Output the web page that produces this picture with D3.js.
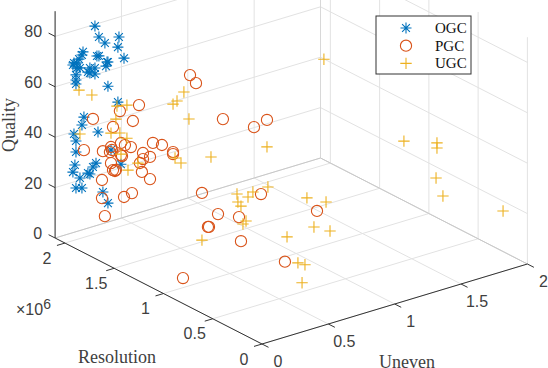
<!DOCTYPE html>
<html>
<head>
<meta charset="utf-8">
<script src="https://d3js.org/d3.v7.min.js"></script>
<style>
  html, body { margin: 0; padding: 0; background: #fff; }
  svg { display: block; }
</style>
</head>
<body>
<svg id="chart" width="548" height="368"></svg>
<script>
// values
const ogcUneven = [.226,.256,.407,.301,.399,.445,.136,.128,.106,.068,.09,.06,.09,.113,.241,.256,.317,.309,.324,.188,.226,.188,.226,.173,.083,.083,.083,.324,.399,.143,.128,.249,.068,.083,.083,.347,.075,.06,.234,.211,.173,.188,.113,.083,.128,.286,.324,.422];
const ogcResolution = ogcUneven.map(() => 2e6);
const ogcQuality = [82.5,77.7,75.3,74.6,71.4,66.3,73.7,72.6,71.3,70.4,70,69.7,68,67.7,70.4,70.2,66.8,65.3,66.7,66.5,65.9,64.5,63.5,65.1,65.4,63.4,61.8,57.1,49.6,47.7,44.8,40.1,42.2,39.2,34.8,31.4,29.8,27.2,28,26.8,25,24.4,24,20.5,19.8,15.7,10.7,24.6];

const pgcUneven = [.211,.414,.558,.512,.362,.143,.286,.347,.339,.354,.422,.452,.497,.43,.422,.588,.588,.565,.641,.663,.731,.347,.58,.362,.384,.377,.641,.279,.505,.445,.279,.301,.2,.245,.072,.072,.448,.682,.78,.29,.411,.569,.343,.335,.584,.147,.544,.735,1.157];
const pgcResolution = [2e6,2e6,2e6,2e6,2e6,2e6,2e6,2e6,2e6,2e6,2e6,2e6,2e6,2e6,2e6,2e6,2e6,2e6,2e6,2e6,2e6,2e6,2e6,2e6,2e6,2e6,2e6,2e6,2e6,2e6,2e6,2e6,1e6,1e6,1e6,1e6,1e6,1e6,1e6,1e6,1e6,1e6,1e6,1e6,1e6,1e6,5e5,1e6,1e6];
const pgcQuality = [45.9,45.8,45.9,40.3,40.3,34.6,31.9,32.6,30.7,31.3,33,31.7,30.2,27.7,28.2,26.4,24,22.8,24,29.2,27.3,26.2,19,23.2,22.9,22.6,15.2,20.6,11.8,11.2,13.4,5.9,83.5,79.6,55,54.2,62.1,55.2,56.5,35.3,25,21.3,21,21.1,11.5,3.8,14,27.8,14.4];

const ugcUneven = [.106,.203,.392,.467,.384,.347,.414,.467,.113,.422,.55,.475,.154,.102,.072,.192,.087,.132,.358,.554,.637,.674,.787,.561,.584,.622,.599,.29,1.081,1.225,1.134,1.255,.931,.642,.695,.673,1.209,.78,1.812,1.467,1.467,1.46,1.512,1.965];
const ugcResolution = [2e6,2e6,2e6,2e6,2e6,2e6,2e6,2e6,2e6,2e6,2e6,2e6,1e6,1e6,1e6,1e6,1e6,1e6,1e6,1e6,1e6,1e6,1e6,1e6,1e6,1e6,1e6,1e6,1e6,1e6,1e6,1e6,1e6,5e5,5e5,5e5,1e6,1e6,1e6,2e5,2e5,2e5,2e5,2e5];
const ugcQuality = [59,55.5,48.1,47.3,43.1,38.1,37.1,34.2,41.5,28.6,23,21.4,77.5,74.8,74,66.2,52.4,49.7,48.5,30.7,28.2,29.6,29.8,27.4,25.4,18.9,18.1,16.6,20.8,16.9,8.4,4.9,7.7,12,10.4,3.6,73.8,45.8,31.7,52.5,50.5,38.7,30.7,17.6];

const unevenTicks = [0, 0.5, 1, 1.5, 2];
const resolutionTicks = [0, 5e5, 1e6, 1.5e6, 2e6];
const qualityTicks = [0, 20, 40, 60, 80];
const legendNames = ['OGC', 'PGC', 'UGC'];

const colors = {OGC: '#0072BD', PGC: '#D95319', UGC: '#EDB120'};
const axisColor = '#333';
const gridColor = '#e2e2e2';
const uMax = 2, rMax = 2.1e6, zMax = 90;

const svg = d3.select('#chart');

// orthographic view, each data axis adds a fixed screen vector
const origin = [262, 344];
const uToX = d3.scaleLinear().domain([0, uMax]).range([0, 265.4]);
const uToY = d3.scaleLinear().domain([0, uMax]).range([0, -80]);
const rToX = d3.scaleLinear().domain([0, rMax]).range([0, -206.9]);
const rToY = d3.scaleLinear().domain([0, rMax]).range([0, -106]);
const zToY = d3.scaleLinear().domain([0, zMax]).range([0, -226.8]);

function project(u, r, z) {
  return [origin[0] + uToX(u) + rToX(r), origin[1] + uToY(u) + rToY(r) + zToY(z)];
}

function segment(g, a, b, color, width) {
  g.append('line')
      .attr('x1', a[0]).attr('y1', a[1])
      .attr('x2', b[0]).attr('y2', b[1])
      .attr('stroke', color)
      .attr('stroke-width', width);
}

// Walls and floor grid
const grid = svg.append('g');
unevenTicks.forEach((u) => {
  segment(grid, project(u, 0, 0), project(u, rMax, 0), gridColor, 1);
  segment(grid, project(u, rMax, 0), project(u, rMax, zMax), gridColor, 1);
});
resolutionTicks.forEach((r) => {
  segment(grid, project(0, r, 0), project(uMax, r, 0), gridColor, 1);
  segment(grid, project(uMax, r, 0), project(uMax, r, zMax), gridColor, 1);
});
qualityTicks.forEach((z) => {
  segment(grid, project(0, rMax, z), project(uMax, rMax, z), gridColor, 1);
  segment(grid, project(uMax, rMax, z), project(uMax, 0, z), gridColor, 1);
});
segment(grid, project(uMax, rMax, 0), project(uMax, rMax, zMax), '#d8d8d8', 1);
segment(grid, project(0, rMax, 0), project(uMax, rMax, 0), '#c8c8c8', 1);
segment(grid, project(uMax, rMax, 0), project(uMax, 0, 0), '#c8c8c8', 1);

// Axis lines and ticks
const axes = svg.append('g');
segment(axes, project(0, rMax, 0), project(0, rMax, zMax), axisColor, 1);
segment(axes, project(0, rMax, 0), project(0, 0, 0), axisColor, 1);
segment(axes, project(0, 0, 0), project(uMax, 0, 0), axisColor, 1);
qualityTicks.forEach((z) => {
  const p = project(0, rMax, z);
  segment(axes, p, [p[0] - 6.5, p[1] - 3.3], axisColor, 1);
});
resolutionTicks.forEach((r) => {
  const p = project(0, r, 0);
  segment(axes, p, [p[0] - 8, p[1] + 2.4], axisColor, 1);
});
unevenTicks.forEach((u) => {
  const p = project(u, 0, 0);
  segment(axes, p, [p[0] + 6.5, p[1] + 3.3], axisColor, 1);
});

// Tick labels
function tickLabel(text, x, y, anchor) {
  svg.append('text')
      .attr('x', x).attr('y', y)
      .attr('text-anchor', anchor || 'middle')
      .attr('dominant-baseline', 'central')
      .attr('font-family', '"Liberation Sans", Arial, sans-serif')
      .attr('font-size', 16)
      .attr('fill', '#404040')
      .text(text);
}
qualityTicks.forEach((z) => {
  const p = project(0, rMax, z);
  tickLabel(String(z), p[0] - 13, p[1] - 4.5, 'end');
});
resolutionTicks.forEach((r) => {
  const p = project(0, r, 0);
  tickLabel(d3.format('~g')(r / 1e6), p[0] - 18, p[1] + 15);
});
unevenTicks.forEach((u) => {
  const p = project(u, 0, 0);
  tickLabel(String(u), p[0] + 16, p[1] + 17);
});

// Exponent of the resolution axis
const exponent = svg.append('text')
    .attr('x', 16).attr('y', 315)
    .attr('font-family', '"Liberation Sans", Arial, sans-serif')
    .attr('font-size', 16)
    .attr('fill', '#404040');
exponent.append('tspan').text('\u00d710');
exponent.append('tspan').attr('dy', -6).attr('font-size', 14).text('6');

// Axis titles
function axisTitle(text, x, y, rotate) {
  svg.append('text')
      .attr('transform', `translate(${x},${y}) rotate(${rotate || 0})`)
      .attr('text-anchor', 'middle')
      .attr('dominant-baseline', 'central')
      .attr('font-family', '"Liberation Serif", "Times New Roman", serif')
      .attr('font-size', 18)
      .attr('fill', '#404040')
      .text(text);
}
axisTitle('Resolution', 117, 357);
axisTitle('Uneven', 407, 362);
axisTitle('Quality', 9, 125, -90);

// Markers
const markerPaths = {
  OGC: 'M0,-5.5V5.5M-5.5,0H5.5M-3.9,-3.9L3.9,3.9M-3.9,3.9L3.9,-3.9',
  PGC: d3.arc()({innerRadius: 0, outerRadius: 5.6, startAngle: 0, endAngle: 2 * Math.PI}),
  UGC: 'M0,-5.7V5.7M-5.7,0H5.7',
};

function drawSeries(name, uneven, resolution, quality) {
  svg.append('g')
      .attr('fill', 'none')
      .attr('stroke', colors[name])
      .attr('stroke-width', 1.1)
      .selectAll('path')
      .data(uneven.map((u, i) => project(u, resolution[i], quality[i])))
      .join('path')
      .attr('transform', (d) => `translate(${d[0]},${d[1]})`)
      .attr('d', markerPaths[name]);
}
drawSeries('OGC', ogcUneven, ogcResolution, ogcQuality);
drawSeries('PGC', pgcUneven, pgcResolution, pgcQuality);
drawSeries('UGC', ugcUneven, ugcResolution, ugcQuality);

// Legend
const legend = svg.append('g');
legend.append('rect')
    .attr('x', 376).attr('y', 16)
    .attr('width', 95).attr('height', 58)
    .attr('fill', '#fff')
    .attr('stroke', axisColor)
    .attr('stroke-width', 1);
legendNames.forEach((name, i) => {
  const y = 28 + i * 17.7;
  legend.append('path')
      .attr('transform', `translate(406,${y})`)
      .attr('fill', 'none')
      .attr('stroke', colors[name])
      .attr('stroke-width', 1.1)
      .attr('d', markerPaths[name]);
  legend.append('text')
      .attr('x', 435).attr('y', y)
      .attr('dominant-baseline', 'central')
      .attr('font-family', '"Liberation Serif", "Times New Roman", serif')
      .attr('font-size', 15)
      .attr('fill', '#111')
      .text(name);
});
</script>
</body>
</html>
